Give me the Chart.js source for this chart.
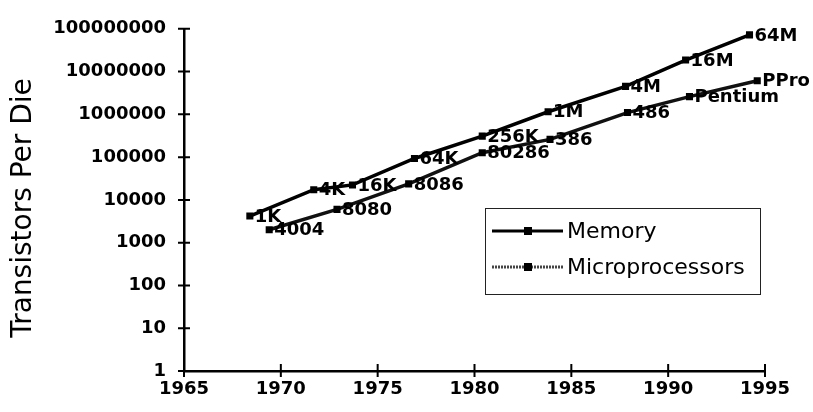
<!DOCTYPE html>
<html>
<head>
<meta charset="utf-8">
<script src="https://cdn.jsdelivr.net/npm/chart.js@4/dist/chart.umd.min.js"></script>
<style>
    html, body { margin: 0; padding: 0; background: #fff; }
    #wrap { width: 813px; height: 412px; }
</style>
</head>
<body>
<div id="wrap"><canvas id="chart" width="813" height="412"></canvas></div>
<script>

// memory chips
const memYears = [1968.4, 1971.7, 1973.7, 1976.9, 1980.4, 1983.8, 1987.8, 1990.9, 1994.2];
const memCounts = [4200, 17300, 22400, 93000, 310000, 1150000, 4500000, 18600000, 72000000];
const memLabels = ['1K', '4K', '16K', '64K', '256K', '1M', '4M', '16M', '64M'];

// microprocessors
const cpuYears = [1969.4, 1972.9, 1976.6, 1980.4, 1983.9, 1987.9, 1991.1, 1994.6];
const cpuCounts = [2000, 6000, 23700, 127000, 260000, 1100000, 2600000, 6100000];
const cpuLabels = ['4004', '8080', '8086', '80286', '386', '486', 'Pentium', 'PPro'];

// axes
const yearTicks = [1965, 1970, 1975, 1980, 1985, 1990, 1995];
const countTicks = [1, 10, 100, 1000, 10000, 100000, 1000000, 10000000, 100000000];
const seriesNames = ['Memory', 'Microprocessors'];


function toPoints(xs, ys) {
    return xs.map((x, i) => ({ x: x, y: ys[i] }));
}

/*
   draws the parts the old spreadsheet chart had that Chart.js does not:
   crossing tick marks, point labels, boxed legend and the y title
*/
const decor = {
    id: 'decor',
    afterDraw(chart) {
        const ctx = chart.ctx;
        const xs = chart.scales.x;
        const ys = chart.scales.y;
        const area = chart.chartArea;

        ctx.save();
        ctx.strokeStyle = '#000';
        ctx.lineWidth = 2;
        ctx.beginPath();
        yearTicks.forEach(v => {
            const px = xs.getPixelForValue(v);
            ctx.moveTo(px, area.bottom - 7);
            ctx.lineTo(px, area.bottom + 6);
        });
        countTicks.forEach(v => {
            const py = ys.getPixelForValue(v);
            ctx.moveTo(area.left - 6, py);
            ctx.lineTo(area.left + 6, py);
        });
        ctx.stroke();

        // point labels
        ctx.fillStyle = '#000';
        ctx.font = 'bold 18px "DejaVu Sans"';
        ctx.textAlign = 'left';
        ctx.textBaseline = 'middle';
        const names = [memLabels, cpuLabels];
        chart.data.datasets.forEach((ds, di) => {
            chart.getDatasetMeta(di).data.forEach((pt, i) => {
                ctx.fillText(names[di][i], pt.x + 5, pt.y + 1);
            });
        });

        // legend box
        const lx = 485, ly = 208, lw = 275, lh = 86;
        ctx.lineWidth = 1;
        ctx.strokeStyle = '#222';
        ctx.strokeRect(lx + 0.5, ly + 0.5, lw, lh);
        const rows = [231, 267];
        ctx.font = '22px "DejaVu Sans"';
        chart.data.datasets.forEach((ds, di) => {
            const ry = rows[di];
            ctx.lineWidth = 3;
            ctx.strokeStyle = di === 0 ? '#000' : '#444';
            ctx.setLineDash(di === 0 ? [] : [2, 1]);
            ctx.beginPath();
            ctx.moveTo(492, ry);
            ctx.lineTo(563, ry);
            ctx.stroke();
            ctx.setLineDash([]);
            ctx.fillStyle = '#000';
            ctx.fillRect(524, ry - 4, 8, 8);
            ctx.fillText(seriesNames[di], 567, ry + 1);
        });

        // y title
        ctx.translate(24, 208);
        ctx.rotate(-Math.PI / 2);
        ctx.textAlign = 'center';
        ctx.font = '28px "DejaVu Sans"';
        ctx.fillText('Transistors Per Die', 0, 0);
        ctx.restore();
    }
};


function build_line_chart(ctx) {

    Chart.defaults.plugins.legend.display = false;
    new Chart(ctx, {
        type: 'line',
        data: {
            datasets: [{
                label: seriesNames[0],
                data: toPoints(memYears, memCounts),
                borderColor: '#000',
                borderWidth: 3.5,
                tension: 0,
                pointStyle: 'rect',
                pointRadius: 5,
                pointBackgroundColor: '#000',
                pointBorderColor: '#000',
                pointBorderWidth: 0
            },
            {
                label: seriesNames[1],
                data: toPoints(cpuYears, cpuCounts),
                borderColor: '#111',
                borderWidth: 3.5,
                tension: 0,
                pointStyle: 'rect',
                pointRadius: 5,
                pointBackgroundColor: '#000',
                pointBorderColor: '#000',
                pointBorderWidth: 0
            }]
        },
        options: {
            responsive: false,
            animation: false,
            layout: {
                padding: { left: 0, right: 48, top: 19, bottom: 0 }
            },
            plugins: {
                legend: { display: false },
                tooltip: { enabled: false }
            },
            scales: {
                x: {
                    type: 'linear',
                    min: 1965,
                    max: 1995,
                    afterBuildTicks: axis => { axis.ticks = yearTicks.map(v => ({ value: v })); },
                    afterFit: axis => { axis.height = 41; },
                    grid: { drawOnChartArea: false, drawTicks: false },
                    border: { color: '#000', width: 2.5 },
                    ticks: {
                        padding: 8,
                        color: '#000',
                        maxRotation: 0,
                        font: { family: 'DejaVu Sans', size: 18, weight: 'bold' },
                        callback: v => String(v)
                    }
                },
                y: {
                    type: 'logarithmic',
                    min: 1,
                    max: 100000000,
                    afterBuildTicks: axis => { axis.ticks = countTicks.map(v => ({ value: v })); },
                    afterFit: axis => { axis.width = 184; },
                    grid: { drawOnChartArea: false, drawTicks: false },
                    border: { color: '#000', width: 2.5 },
                    ticks: {
                        padding: 18,
                        color: '#000',
                        font: { family: 'DejaVu Sans', size: 18, weight: 'bold' },
                        callback: v => String(v)
                    }
                }
            }
        },
        plugins: [decor]
    });

}

build_line_chart(document.getElementById('chart'));
</script>
</body>
</html>
